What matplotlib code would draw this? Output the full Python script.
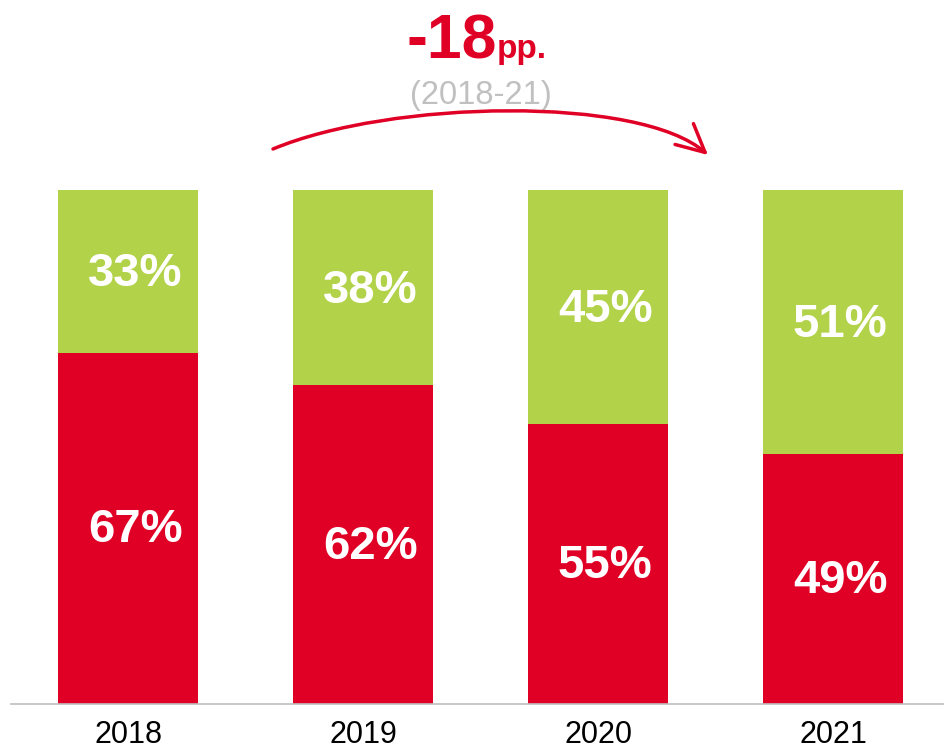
import matplotlib.pyplot as plt
from matplotlib.patches import FancyArrowPatch
from matplotlib.path import Path

# Data
years = ['2018', '2019', '2020', '2021']
red_share = [68.4, 62.0, 54.4, 48.7]     # bar heights
red_labels = ['67%', '62%', '55%', '49%']
green_labels = ['33%', '38%', '45%', '51%']

RED = '#E00025'
GREEN = '#B2D24A'

plt.rcParams['font.family'] = ['Liberation Sans', 'DejaVu Sans']

fig = plt.figure(figsize=(9.44, 7.51), dpi=100)
ax = fig.add_axes([11/944, 47/751, 933/944, 704/751])

x = list(range(len(years)))
green_share = [100 - r for r in red_share]
w = 0.596

ax.bar(x, red_share, width=w, color=RED)
ax.bar(x, green_share, width=w, bottom=red_share, color=GREEN)

for i in x:
    ax.text(i + 0.03, red_share[i] / 2 - 0.4, red_labels[i], ha='center', va='center',
            color='white', fontsize=34, fontweight='bold')
    ax.text(i + 0.03, red_share[i] + green_share[i] / 2 - 0.6, green_labels[i],
            ha='center', va='center', color='white', fontsize=34, fontweight='bold')
    ax.text(i, -6.0, years[i], ha='center', va='center', fontsize=22,
            color='black', clip_on=False)

ax.set_xlim(-0.498, 3.472)
ax.set_ylim(0, 137)
for s in ['top', 'right', 'left']:
    ax.spines[s].set_visible(False)
ax.spines['bottom'].set_color('#BFBFBF')
ax.spines['bottom'].set_linewidth(1.2)
ax.set_xticks([])
ax.set_yticks([])

# Change annotation
ax.text(1.570, 125.7, '-18', ha='right', va='baseline', color=RED,
        fontsize=45, fontweight='bold')
ax.text(1.570, 125.7, 'pp.', ha='left', va='baseline', color=RED,
        fontsize=24, fontweight='bold')
ax.text(1.502, 118.5, '(2018-21)', ha='center', va='center', color='#C0C0C0',
        fontsize=23.5)

# curved arrow (pixel positions -> figure fraction)
pts = [(273, 149), (390, 100), (640, 95), (708, 155)]
verts = [(px / 944, 1 - py / 751) for px, py in pts]
arc = Path(verts, [Path.MOVETO, Path.CURVE4, Path.CURVE4, Path.CURVE4])
arrow = FancyArrowPatch(path=arc, transform=fig.transFigure,
                        arrowstyle='->,head_length=1.0,head_width=0.5',
                        color=RED, linewidth=2.5, mutation_scale=20)
fig.add_artist(arrow)

fig.savefig('out.png', dpi=100)
